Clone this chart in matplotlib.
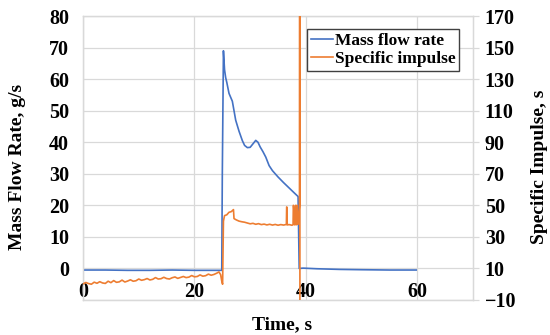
import numpy as np
import matplotlib.pyplot as plt

# mass flow rate, g/s (left axis)
t_mdot = [0, 4, 8, 12, 16, 20, 24.9, 25.0, 25.2, 25.4, 25.6, 25.8, 26.2, 26.8, 27.4, 28.0,
          28.6, 29.0, 29.5, 30.0, 30.5, 31.0, 31.4, 31.8, 32.3, 32.8, 33.4, 34.0, 35.0,
          36.0, 37.0, 38.0, 38.6, 38.8, 39.5, 42, 46, 50, 55, 59.8]
mdot = [-0.5, -0.5, -0.6, -0.6, -0.5, -0.6, -0.6, 30.0, 69.0, 63.0, 60.5, 59.0, 55.5, 53.0,
        47.0, 43.5, 40.5, 39.0, 38.3, 38.4, 39.5, 40.6, 40.0, 38.5, 37.0, 35.3, 32.6, 31.0,
        29.0, 27.2, 25.5, 23.8, 22.8, 0.0, 0.1, -0.1, -0.3, -0.4, -0.5, -0.5]

# specific impulse, s (right axis)
t_isp = [0, 0.5, 1, 1.5, 2, 2.5, 3, 3.5, 4, 4.5, 5, 5.5, 6, 6.5, 7, 7.5, 8, 8.5, 9, 9.5,
         10, 10.5, 11, 11.5, 12, 12.5, 13, 13.5, 14, 14.5, 15, 15.5, 16, 16.5, 17, 17.5,
         18, 18.5, 19, 19.5, 20, 20.5, 21, 21.5, 22, 22.5, 23, 23.5, 24, 24.4, 24.7, 24.9,
         25.05, 25.2, 25.4, 25.8, 26.2, 26.6, 27.0, 27.1, 27.5, 28.0, 28.5, 29.0, 29.5,
         30.0, 30.5, 31.0, 31.5, 32.0, 32.5, 33.0, 33.5, 34.0, 34.5, 35.0, 35.5, 36.0,
         36.5, 36.55, 36.6, 36.65, 37.0, 37.5, 37.7, 37.75, 37.8, 38.0, 38.1, 38.15, 38.3,
         38.35, 38.4, 38.6, 38.85, 38.9, 38.95]
isp = [0.2, 1.1, 0.4, 0.0, 1.3, 0.6, 1.6, 0.8, 0.5, 1.9, 1.0, 2.3, 1.2, 1.5, 2.6, 1.4,
       2.0, 2.8, 1.9, 2.2, 3.3, 2.5, 2.9, 3.6, 2.7, 3.1, 4.2, 3.3, 3.5, 4.4, 3.6, 3.3,
       4.1, 4.6, 3.7, 4.3, 4.9, 4.2, 4.5, 5.5, 4.7, 4.9, 5.9, 5.1, 5.4, 6.4, 5.7, 6.2,
       7.0, 7.8, 6.0, 2.0, 0.0, 40.0, 43.5, 44.0, 45.6, 46.0, 47.3, 41.6, 40.8, 40.0,
       39.6, 39.3, 38.8, 38.3, 38.6, 38.0, 38.4, 37.8, 38.1, 37.6, 38.0, 37.5, 37.9,
       37.4, 37.8, 37.5, 37.9, 49.0, 48.8, 37.6, 37.8, 37.4, 37.7, 50.0, 49.8, 37.6,
       37.8, 50.0, 49.5, 37.7, 50.0, 38.0, 50.0, 400.0, -300.0]

x_ticks = [0, 20, 40, 60]
left_ticks = [0, 10, 20, 30, 40, 50, 60, 70, 80]
right_ticks = [-10, 10, 30, 50, 70, 90, 110, 130, 150, 170]

blue = '#4472C4'
orange = '#ED7D31'
gridc = '#d9d9d9'
font = ['Liberation Serif', 'DejaVu Serif']

fig = plt.figure(figsize=(5.5, 3.35), dpi=100)
ax = fig.add_axes([0.151, 0.1045, 0.709, 0.8475])
ax2 = ax.twinx()

ax.plot(t_mdot, mdot, color=blue, lw=1.2, label='Mass flow rate', zorder=3)
ax2.plot(t_isp, isp, color=orange, lw=1.2, label='Specific impulse', zorder=3)

ax.set_xlim(0, 70)
ax.set_ylim(-10, 80)
ax2.set_ylim(-10, 170)
ax.set_xticks(x_ticks)
ax.set_yticks(left_ticks)
ax2.set_yticks(right_ticks)
ax.set_yticks([-10], minor=True)
ax.grid(True, which='both', color=gridc, lw=0.9, zorder=0)
ax.set_axisbelow(True)

for a in (ax, ax2):
    for s in a.spines.values():
        s.set_color(gridc)
        s.set_linewidth(0.9)
ax.tick_params(axis='both', which='both', length=0)
ax.tick_params(axis='x', pad=-13)
ax.tick_params(axis='y', pad=10)
ax2.tick_params(axis='y', length=4.5, color=gridc, width=0.9, pad=4)

for lab in ax.get_xticklabels() + ax.get_yticklabels() + ax2.get_yticklabels():
    lab.set_family(font)
    lab.set_fontweight('bold')
    lab.set_fontsize(14.5)

ax.set_xlabel('Time, s', family=font, fontweight='bold', fontsize=14)
ax.set_ylabel('Mass Flow Rate, g/s', family=font, fontweight='bold', fontsize=14)
ax2.set_ylabel('Specific Impulse, s', family=font, fontweight='bold', fontsize=14,
               rotation=90)
ax.xaxis.set_label_coords(0.51, -0.088)
ax.xaxis.label.set_va('center')
ax.yaxis.set_label_coords(-0.167, 0.47)
ax.yaxis.label.set_va('center')
ax2.yaxis.set_label_coords(1.17, 0.47)
ax2.yaxis.label.set_va('center')

h1, l1 = ax.get_legend_handles_labels()
h2, l2 = ax2.get_legend_handles_labels()
leg = ax2.legend(h1 + h2, l1 + l2, loc='upper right', bbox_to_anchor=(0.987, 0.985),
                 prop={'family': font, 'weight': 'bold', 'size': 12.5},
                 handlelength=1.3, handletextpad=0.1, borderpad=0.2, labelspacing=0.15,
                 fancybox=False, edgecolor='#404040', framealpha=1)
leg.get_frame().set_linewidth(1.0)

plt.savefig('out.png', dpi=100)
